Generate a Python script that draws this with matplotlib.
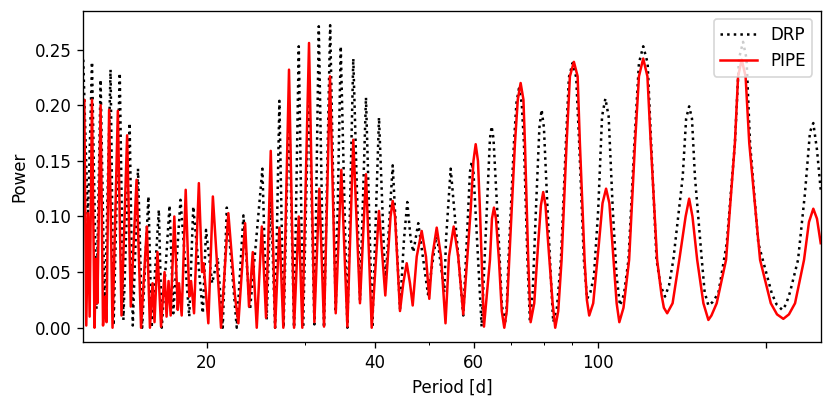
import matplotlib
matplotlib.use("Agg")
import matplotlib.pyplot as plt
import numpy as np
from matplotlib.ticker import FixedLocator, NullFormatter

# periodogram values (period in days, power)
drp_period = [12.03, 12.26, 12.47, 12.70, 12.92, 13.14, 13.46, 13.63, 13.98, 14.19,
              14.56, 14.75, 15.07, 15.33, 15.73, 15.94, 16.42, 16.62, 17.16, 17.43,
              17.95, 18.61, 18.92, 19.68, 19.94, 20.45, 20.92, 21.36, 21.72, 22.63,
              23.26, 23.90, 25.15, 25.59, 26.03, 26.50, 26.97, 27.44, 28.06, 28.65,
              29.21, 29.73, 30.47, 31.15, 31.72, 32.41, 33.24, 34.01, 34.72, 35.68,
              36.56, 37.58, 38.52, 39.54, 40.64, 41.71, 43.00, 44.31, 45.66, 46.81,
              47.77, 49.72, 51.54, 53.18, 54.59, 57.49, 59.52, 62.01, 64.62, 68.26,
              69.26, 70.83, 72.30, 73.80, 74.88, 75.65, 76.50, 77.54, 79.38, 81.34,
              82.72, 83.26, 85.94, 87.72, 90.18, 92.65, 94.47, 95.73, 98.44, 100.2,
              103.2, 106.4, 108.1, 109.6, 113.5, 116.3, 120.6, 124.6, 127.4, 131.9,
              136.5, 141.9, 145.7, 149.2, 153.5, 157.7, 164.3, 170.1, 175.9, 181.9,
              187.2, 193.7, 204.7, 213.8, 220.7, 228.1, 234.7, 242.9, 246.6, 250.4]
drp_power = [0.241, 0.095, 0.239, 0.017, 0.223, 0.012, 0.232, 0.002, 0.229, 0.007,
             0.184, 0.002, 0.143, 0.000, 0.118, 0.000, 0.106, 0.000, 0.110, 0.013,
             0.115, 0.010, 0.109, 0.013, 0.088, 0.040, 0.063, 0.000, 0.108, 0.000,
             0.101, 0.016, 0.143, 0.007, 0.120, 0.000, 0.204, 0.000, 0.200, 0.000,
             0.253, 0.000, 0.220, 0.003, 0.271, 0.000, 0.272, 0.014, 0.253, 0.000,
             0.242, 0.025, 0.207, 0.000, 0.189, 0.037, 0.146, 0.017, 0.113, 0.068,
             0.094, 0.030, 0.085, 0.032, 0.143, 0.011, 0.149, 0.001, 0.181, 0.003,
             0.061, 0.166, 0.215, 0.166, 0.061, 0.005, 0.031, 0.106, 0.196, 0.106,
             0.031, 0.005, 0.061, 0.166, 0.238, 0.166, 0.061, 0.026, 0.046, 0.106,
             0.206, 0.106, 0.046, 0.020, 0.061, 0.166, 0.253, 0.166, 0.061, 0.028,
             0.061, 0.136, 0.199, 0.136, 0.061, 0.020, 0.031, 0.076, 0.166, 0.257,
             0.166, 0.076, 0.031, 0.016, 0.032, 0.061, 0.121, 0.184, 0.160, 0.124]
# extra points on the rounded peak tops and troughs
drp_top_period = [45.04, 46.31, 53.55, 56.01, 59.10, 59.96, 64.17, 65.11, 66.45, 67.42,
                  68.77, 71.56, 73.14, 78.66, 80.13, 84.54, 88.81, 91.53, 97.03, 101.8,
                  104.6, 111.4, 118.5, 122.8, 129.5, 134.1, 143.9, 147.4, 155.3, 160.4,
                  178.9, 184.5, 208.8, 217.1, 239.6]
drp_top_power = [0.079, 0.079, 0.079, 0.079, 0.140, 0.140, 0.170, 0.170, 0.085, 0.020,
                 0.020, 0.202, 0.202, 0.180, 0.180, 0.018, 0.225, 0.225, 0.032, 0.190,
                 0.190, 0.030, 0.238, 0.238, 0.038, 0.038, 0.188, 0.188, 0.032, 0.023,
                 0.242, 0.242, 0.021, 0.021, 0.176]

pipe_period = [12.03, 12.08, 12.18, 12.27, 12.35, 12.47, 12.60, 12.68, 12.75, 12.92,
               13.05, 13.16, 13.24, 13.38, 13.57, 13.87, 14.08, 14.41, 14.63, 14.98,
               15.26, 15.63, 15.83, 16.00, 16.13, 16.33, 16.57, 16.81, 16.95, 17.09,
               17.24, 17.50, 17.75, 17.84, 18.04, 18.34, 18.61, 18.75, 18.98, 19.36,
               19.62, 19.74, 20.13, 20.51, 21.21, 21.86, 22.47, 22.78, 23.42, 23.80,
               24.17, 24.57, 25.09, 25.53, 26.03, 26.50, 26.97, 27.41, 28.06, 28.65,
               29.21, 29.64, 30.47, 31.15, 31.79, 32.41, 33.22, 34.01, 34.80, 35.68,
               36.56, 37.58, 38.52, 39.44, 40.64, 41.71, 43.00, 44.31, 45.55, 46.69,
               48.45, 49.99, 51.54, 53.44, 55.27, 57.49, 59.28, 60.51, 61.58, 62.61,
               64.17, 65.24, 66.59, 68.07, 69.47, 71.13, 72.81, 74.11, 75.12, 75.87,
               77.00, 78.27, 79.90, 81.55, 83.06, 83.95, 86.18, 87.98, 90.66, 92.92,
               94.74, 96.56, 98.16, 100.5, 103.5, 106.2, 108.1, 109.3, 113.8, 116.6,
               120.6, 124.4, 127.7, 133.1, 136.1, 139.9, 145.7, 150.6, 154.5, 157.7,
               163.2, 169.6, 175.9, 180.9, 186.6, 195.1, 203.9, 214.7, 225.3, 233.8,
               242.9, 246.6, 250.4]
pipe_power = [0.200, 0.205, 0.002, 0.103, 0.010, 0.205, 0.000, 0.062, 0.022, 0.200,
              0.002, 0.028, 0.005, 0.196, 0.000, 0.195, 0.011, 0.173, 0.019, 0.133,
              0.000, 0.091, 0.000, 0.040, 0.005, 0.068, 0.001, 0.050, 0.010, 0.042,
              0.011, 0.100, 0.016, 0.040, 0.011, 0.124, 0.028, 0.042, 0.013, 0.130,
              0.050, 0.058, 0.004, 0.118, 0.000, 0.103, 0.028, 0.004, 0.094, 0.019,
              0.068, 0.000, 0.091, 0.009, 0.159, 0.000, 0.090, 0.000, 0.232, 0.000,
              0.100, 0.000, 0.256, 0.005, 0.125, 0.001, 0.226, 0.013, 0.142, 0.001,
              0.169, 0.022, 0.138, 0.000, 0.105, 0.029, 0.114, 0.015, 0.058, 0.020,
              0.087, 0.026, 0.090, 0.004, 0.091, 0.012, 0.106, 0.165, 0.106, 0.001,
              0.061, 0.108, 0.061, 0.000, 0.061, 0.166, 0.220, 0.166, 0.061, 0.005,
              0.022, 0.076, 0.122, 0.076, 0.022, 0.000, 0.061, 0.166, 0.239, 0.166,
              0.061, 0.011, 0.022, 0.076, 0.125, 0.076, 0.022, 0.005, 0.061, 0.166,
              0.242, 0.166, 0.061, 0.013, 0.022, 0.061, 0.116, 0.061, 0.022, 0.007,
              0.022, 0.061, 0.166, 0.241, 0.166, 0.061, 0.022, 0.008, 0.022, 0.061,
              0.107, 0.098, 0.076]
pipe_top_period = [42.62, 43.41, 44.91, 46.17, 47.47, 49.31, 50.61, 52.46, 54.21, 56.31,
                   59.96, 61.08, 64.70, 65.78, 67.37, 68.77, 71.96, 73.65, 79.15, 80.66,
                   85.00, 89.18, 92.06, 95.64, 102.0, 104.9, 111.2, 118.5, 122.7, 130.0,
                   131.3, 143.6, 147.7, 159.7, 178.2, 183.8, 209.2, 219.7, 238.6]
pipe_top_power = [0.100, 0.100, 0.040, 0.040, 0.064, 0.064, 0.064, 0.064, 0.064, 0.064,
                  0.150, 0.150, 0.098, 0.098, 0.015, 0.015, 0.205, 0.205, 0.110, 0.110,
                  0.015, 0.226, 0.226, 0.025, 0.112, 0.112, 0.018, 0.226, 0.226, 0.030,
                  0.018, 0.100, 0.100, 0.011, 0.226, 0.226, 0.012, 0.012, 0.095]

major_ticks = [20, 40, 60, 100, 200]
major_labels = ["20", "40", "60", "100", ""]
minor_ticks = [30, 50, 70, 80, 90]


def merged(period, power, extra_period, extra_power):
    p = np.concatenate([period, extra_period])
    v = np.concatenate([power, extra_power])
    order = np.argsort(p)
    return p[order], v[order]


drp_x, drp_y = merged(drp_period, drp_power, drp_top_period, drp_top_power)
pipe_x, pipe_y = merged(pipe_period, pipe_power, pipe_top_period, pipe_top_power)

fig = plt.figure(figsize=(831 / 120, 404 / 120), dpi=120)
ax = fig.add_axes([0.1002, 0.1527, 0.8874, 0.8208])

ax.plot(drp_x, drp_y, "k:", label="DRP")
ax.plot(pipe_x, pipe_y, "r-", label="PIPE")

ax.set_xscale("log")
ax.set_xlim(12.03, 250.4)
ax.set_ylim(-0.0131, 0.285)
ax.xaxis.set_major_locator(FixedLocator(major_ticks))
ax.set_xticklabels(major_labels)
ax.xaxis.set_minor_locator(FixedLocator(minor_ticks))
ax.xaxis.set_minor_formatter(NullFormatter())

ax.set_xlabel("Period [d]")
ax.set_ylabel("Power")
ax.legend(loc="upper right", handlelength=2.2)

fig.savefig("out.png", dpi=120)
